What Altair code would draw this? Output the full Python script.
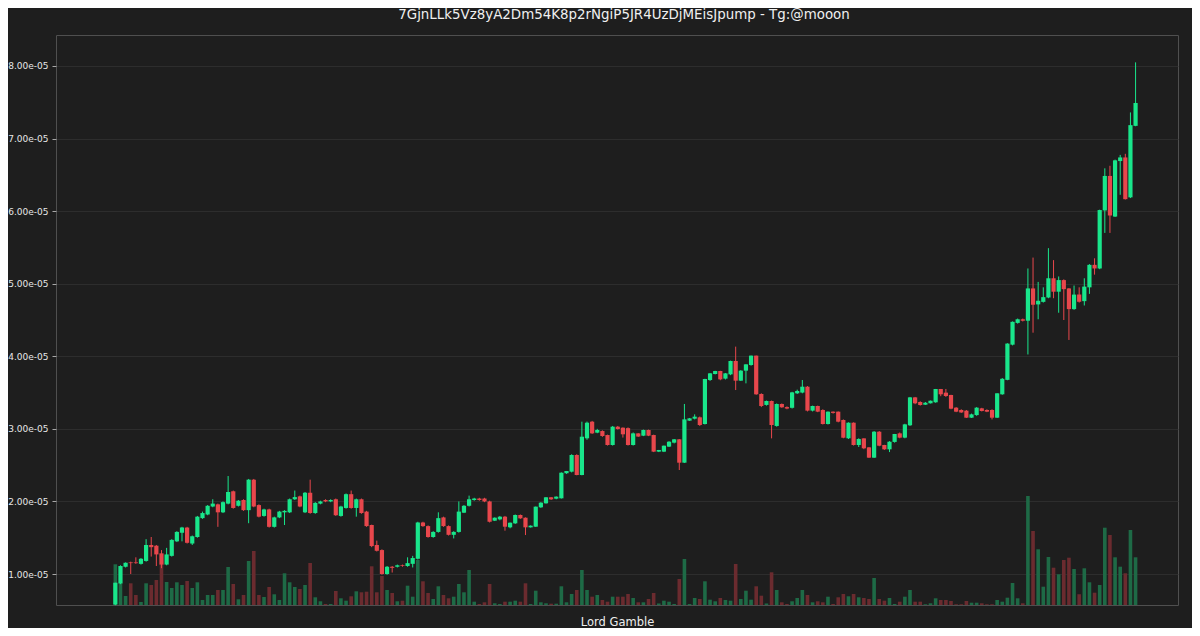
import altair as alt
import pandas as pd

TITLE = "7GjnLLk5Vz8yA2Dm54K8p2rNgiP5JR4UzDjMEisJpump - Tg:@mooon"
X_TITLE = "Lord Gamble"

# Prices are in units of 1e-05
opens = [
    0.58, 0.87, 1.10, 1.16, 1.16, 1.14, 1.18, 1.40, 1.39, 1.285,
    1.13, 1.25, 1.45, 1.57, 1.64, 1.42, 1.51, 1.77, 1.82, 1.93,
    1.96, 1.85, 1.97, 2.14, 1.94, 2.02, 1.88, 2.30, 1.95, 1.80,
    1.89, 1.65, 1.78, 1.85, 1.85, 2.03, 2.07, 1.85, 2.12, 1.84,
    1.97, 2.02, 2.00, 2.03, 1.80, 1.91, 2.10, 1.91, 2.03, 1.86,
    1.675, 1.40, 1.33, 1.00, 1.10, 1.10, 1.12, 1.11, 1.14, 1.21,
    1.71, 1.66, 1.51, 1.58, 1.78, 1.66, 1.54, 1.58, 1.845, 1.94,
    2.02, 2.04, 2.04, 2.00, 1.735, 1.753, 1.79, 1.643, 1.698, 1.813,
    1.776, 1.643, 1.652, 1.919, 1.974, 2.057, 2.038, 2.043, 2.387, 2.41,
    2.64, 2.364, 2.87, 3.099, 2.948, 2.97, 2.915, 2.778, 3.03, 3.016,
    3.01, 2.778, 2.938, 2.906, 2.984, 2.915, 2.686, 2.686, 2.755, 2.81,
    2.856, 2.534, 3.113, 3.14, 3.159, 3.067, 3.673, 3.756, 3.797, 3.692,
    3.751, 3.935, 3.664, 3.802, 3.88, 4.009, 3.48, 3.33, 3.384, 3.04,
    3.343, 3.30, 3.29, 3.49, 3.50, 3.581, 3.251, 3.315, 3.26, 3.067,
    3.237, 3.237, 3.122, 2.87, 3.085, 2.778, 2.869, 2.745, 2.603, 2.961,
    2.778, 2.718, 2.82, 2.938, 2.879, 3.049, 3.434, 3.37, 3.333, 3.352,
    3.366, 3.549, 3.499, 3.467, 3.292, 3.26, 3.251, 3.154, 3.19, 3.283,
    3.26, 3.26, 3.154, 3.476, 3.675, 4.16, 4.46, 4.51, 4.49, 4.935,
    4.715, 4.75, 4.81, 5.075, 4.89, 5.05, 4.935, 4.65, 4.85, 4.76,
    4.95, 5.26, 5.21, 6.01, 6.485, 5.925, 6.69, 6.74, 6.19, 7.175,
]
highs = [
    0.88, 1.12, 1.16, 1.17, 1.23, 1.22, 1.48, 1.51, 1.40, 1.33,
    1.36, 1.48, 1.59, 1.65, 1.65, 1.53, 1.80, 1.86, 1.95, 2.03,
    1.97, 2.00, 2.35, 2.15, 2.02, 2.03, 2.31, 2.31, 1.96, 1.90,
    1.90, 1.79, 1.87, 1.88, 2.04, 2.15, 2.08, 2.13, 2.30, 1.99,
    2.01, 2.03, 2.03, 2.04, 1.94, 2.11, 2.15, 2.04, 2.04, 1.87,
    1.68, 1.46, 1.34, 1.11, 1.11, 1.13, 1.13, 1.23, 1.25, 1.72,
    1.72, 1.67, 1.59, 1.85, 1.79, 1.67, 1.59, 2.00, 1.95, 2.08,
    2.05, 2.05, 2.05, 2.01, 1.78, 1.80, 1.80, 1.71, 1.82, 1.82,
    1.78, 1.67, 1.93, 1.99, 2.06, 2.06, 2.07, 2.40, 2.42, 2.65,
    2.65, 3.099, 3.10, 3.11, 3.00, 2.98, 2.92, 3.04, 3.04, 3.02,
    3.02, 2.95, 2.94, 2.99, 2.99, 2.92, 2.71, 2.77, 2.83, 2.86,
    2.86, 3.343, 3.15, 3.20, 3.17, 3.69, 3.77, 3.80, 3.80, 3.77,
    3.94, 4.133, 3.81, 3.89, 4.01, 4.01, 3.49, 3.39, 3.39, 3.35,
    3.35, 3.31, 3.51, 3.54, 3.673, 3.59, 3.32, 3.32, 3.27, 3.24,
    3.24, 3.24, 3.13, 3.09, 3.09, 2.87, 2.87, 2.75, 2.97, 2.97,
    2.78, 2.83, 2.93, 2.95, 3.07, 3.44, 3.44, 3.38, 3.37, 3.39,
    3.55, 3.55, 3.55, 3.47, 3.30, 3.27, 3.26, 3.21, 3.30, 3.29,
    3.27, 3.27, 3.49, 3.70, 4.18, 4.48, 4.52, 4.52, 5.21, 5.36,
    5.025, 4.95, 5.49, 5.325, 5.10, 5.06, 4.94, 4.975, 4.95, 5.075,
    5.27, 5.35, 6.02, 6.59, 6.625, 6.71, 6.775, 6.79, 7.36, 8.05,
]
lows = [
    0.57, 0.86, 1.09, 1.00, 1.14, 1.13, 1.17, 1.24, 1.11, 1.08,
    1.12, 1.24, 1.44, 1.45, 1.42, 1.40, 1.50, 1.76, 1.81, 1.92,
    1.65, 1.84, 1.96, 1.90, 1.93, 1.87, 1.70, 1.92, 1.78, 1.79,
    1.64, 1.64, 1.77, 1.675, 1.84, 2.02, 1.92, 1.84, 1.83, 1.83,
    1.96, 1.99, 1.99, 1.80, 1.79, 1.90, 1.90, 1.79, 1.83, 1.65,
    1.37, 1.31, 0.99, 0.99, 1.02, 1.09, 1.10, 1.10, 1.09, 1.20,
    1.65, 1.50, 1.50, 1.57, 1.65, 1.53, 1.49, 1.57, 1.84, 1.93,
    2.01, 2.01, 1.99, 1.71, 1.73, 1.74, 1.597, 1.63, 1.69, 1.76,
    1.537, 1.64, 1.65, 1.91, 1.97, 2.02, 2.03, 2.04, 2.38, 2.40,
    2.36, 2.36, 2.85, 2.93, 2.94, 2.89, 2.77, 2.77, 2.99, 2.88,
    2.77, 2.77, 2.89, 2.90, 2.90, 2.68, 2.68, 2.68, 2.75, 2.80,
    2.433, 2.53, 3.11, 3.13, 3.04, 3.06, 3.66, 3.75, 3.67, 3.68,
    3.74, 3.535, 3.66, 3.627, 3.87, 3.47, 3.30, 3.32, 2.869, 3.03,
    3.29, 3.27, 3.28, 3.48, 3.49, 3.24, 3.24, 3.23, 3.06, 3.06,
    3.21, 3.09, 2.87, 2.86, 2.77, 2.75, 2.72, 2.60, 2.60, 2.76,
    2.71, 2.68, 2.81, 2.87, 2.87, 3.04, 3.34, 3.32, 3.33, 3.35,
    3.36, 3.45, 3.44, 3.27, 3.23, 3.22, 3.15, 3.15, 3.18, 3.24,
    3.23, 3.13, 3.15, 3.47, 3.67, 4.15, 4.45, 4.48, 4.025, 4.325,
    4.51, 4.74, 4.80, 4.80, 4.60, 4.50, 4.225, 4.64, 4.74, 4.70,
    4.86, 5.125, 5.20, 5.70, 5.70, 5.92, 6.225, 6.16, 6.18, 7.17,
]
closes = [
    0.88, 1.11, 1.155, 1.15, 1.15, 1.21, 1.40, 1.37, 1.27, 1.13,
    1.27, 1.47, 1.58, 1.64, 1.43, 1.52, 1.79, 1.84, 1.94, 1.97,
    1.85, 1.99, 2.13, 1.91, 2.01, 1.88, 2.30, 1.93, 1.79, 1.89,
    1.65, 1.78, 1.86, 1.87, 2.03, 2.06, 1.93, 2.12, 1.84, 1.98,
    2.00, 2.00, 2.02, 1.81, 1.93, 2.10, 1.91, 2.03, 1.84, 1.66,
    1.385, 1.32, 1.00, 1.10, 1.085, 1.12, 1.11, 1.15, 1.22, 1.71,
    1.66, 1.51, 1.58, 1.77, 1.66, 1.54, 1.58, 1.86, 1.94, 2.03,
    2.04, 2.02, 2.00, 1.72, 1.776, 1.79, 1.652, 1.707, 1.813, 1.767,
    1.643, 1.666, 1.928, 1.983, 2.057, 2.029, 2.066, 2.396, 2.419, 2.64,
    2.364, 2.892, 3.085, 2.938, 2.984, 2.902, 2.778, 3.03, 2.998, 2.925,
    2.778, 2.938, 2.894, 2.984, 2.906, 2.686, 2.709, 2.768, 2.823, 2.856,
    2.534, 3.131, 3.145, 3.168, 3.053, 3.687, 3.765, 3.797, 3.682, 3.765,
    3.935, 3.664, 3.802, 3.889, 4.009, 3.476, 3.315, 3.384, 3.053, 3.343,
    3.297, 3.28, 3.503, 3.522, 3.581, 3.251, 3.315, 3.237, 3.067, 3.237,
    3.22, 3.099, 2.878, 3.085, 2.778, 2.86, 2.732, 2.603, 2.961, 2.768,
    2.718, 2.823, 2.929, 2.879, 3.062, 3.434, 3.352, 3.329, 3.36, 3.388,
    3.549, 3.476, 3.453, 3.278, 3.237, 3.226, 3.154, 3.20, 3.292, 3.246,
    3.237, 3.154, 3.49, 3.69, 4.175, 4.475, 4.51, 4.49, 4.935, 4.71,
    4.765, 4.815, 5.075, 4.89, 5.05, 4.925, 4.65, 4.85, 4.75, 4.96,
    5.26, 5.21, 6.015, 6.485, 5.94, 6.70, 6.74, 6.165, 7.185, 7.49,
]
volumes = [
    40.7, 22, 9, 21.7, 10, 3, 21.7, 20, 25, 41,
    23, 17, 22.7, 20, 24, 17, 22.7, 5, 10, 10,
    15, 15, 38, 21, 5.7, 10, 44, 54, 10, 8,
    18, 10.7, 5, 31.7, 22.7, 18, 16, 20, 42, 7.7,
    3.7, 1, 1, 14, 6.7, 4.3, 8.7, 13.7, 12.7, 13.3,
    38.7, 12.7, 29, 15, 12, 3.7, 4.3, 19.3, 8.3, 45,
    23.7, 12, 6, 18.7, 10, 6.7, 8.3, 21, 12.7, 35,
    3.3, 1, 2.7, 21, 1.7, 1, 3.3, 3.3, 4.3, 3.3,
    21.7, 1, 14.3, 2.7, 1.7, 1.3, 1.3, 18.7, 2.7, 11,
    15, 35, 15, 8.3, 10, 5, 3.3, 8.3, 8.3, 8.3,
    11, 7, 2.7, 2.7, 6, 12, 1.5, 4.3, 3.3, 1,
    26, 46, 1, 7, 6, 23.7, 5.3, 3.7, 7, 5,
    4.3, 41, 6, 14.3, 5.3, 18.7, 9.3, 1.5, 32.7, 15,
    2.7, 1, 3.7, 7, 15, 10, 2.7, 3.7, 2.7, 8.3,
    1, 7.7, 11, 8.7, 11, 7.7, 7, 6, 27, 6,
    4.3, 7, 1, 3.3, 8.3, 15, 3.3, 3.3, 0.7, 1.7,
    6.7, 5, 5, 4, 0.7, 0.7, 4, 2.3, 2.3, 1.7,
    0.7, 0.7, 5, 3.3, 7.3, 22, 6.7, 1.7, 109, 74,
    55.7, 18.3, 48, 37.3, 30.7, 45, 47.3, 36, 10.7, 36.7,
    22.7, 12.3, 20, 77.3, 70, 47.7, 38.3, 31.7, 75, 47.7,
]
y_ticks = [1, 2, 3, 4, 5, 6, 7, 8]

df = pd.DataFrame({
    "idx": list(range(len(opens))),
    "open": opens,
    "high": highs,
    "low": lows,
    "close": closes,
    "volume": volumes,
})

BG = "#1e1e1e"
UP = "#19e68b"
DOWN = "#e8474c"
UP_VOL = "#1e6a46"
DOWN_VOL = "#6b2b2f"
FONT = "DejaVu Sans"

up_cond = "datum.close >= datum.open"

x_enc = alt.X(
    "idx:Q",
    scale=alt.Scale(domain=[-10.6, 206.3], nice=False, zero=False),
    axis=alt.Axis(
        title=X_TITLE, labels=False, ticks=False, domain=False, grid=False,
        titleColor="#eeeeee", titleFontSize=11.5, titleFont=FONT,
        titleFontWeight="normal", titlePadding=11,
    ),
)

y_scale = alt.Scale(domain=[0.573, 8.427], nice=False, zero=False)
y_axis = alt.Axis(
    title=None, values=y_ticks,
    labelExpr="format(datum.value, '.2f') + 'e-05'",
    labelColor="#e6e6e6", labelFontSize=9, labelFont=FONT, labelPadding=4,
    tickColor="#cccccc", tickSize=4, tickWidth=0.8,
    domain=False, grid=True, gridColor="#313131", gridWidth=0.8,
)

base = alt.Chart(df)

vol = base.mark_bar(size=3.6).encode(
    x=x_enc,
    y=alt.Y("volume:Q", scale=alt.Scale(domain=[0, 570], nice=False), axis=None),
    color=alt.condition(up_cond, alt.value(UP_VOL), alt.value(DOWN_VOL)),
)

wick = base.mark_rule(strokeWidth=1).encode(
    x=x_enc,
    y=alt.Y("low:Q", scale=y_scale, axis=y_axis),
    y2="high:Q",
    color=alt.condition(up_cond, alt.value(UP), alt.value(DOWN)),
)

body = base.mark_bar(size=4.2).encode(
    x=x_enc,
    y=alt.Y("open:Q", scale=y_scale, axis=y_axis),
    y2="close:Q",
    color=alt.condition(up_cond, alt.value(UP), alt.value(DOWN)),
)

price = alt.layer(wick, body)

chart = (
    alt.layer(vol, price)
    .resolve_scale(y="independent")
    .properties(
        width=1122,
        height=570,
        padding={"left": 48, "top": 27, "right": 14, "bottom": 23},
        autosize=alt.AutoSizeParams(type="none"),
        background=BG,
        title=alt.TitleParams(
            TITLE, fontSize=13.4, font=FONT, color="#f0f0f0",
            fontWeight="normal", anchor="middle", offset=3,
            baseline="alphabetic", dx=7,
        ),
    )
    .configure_view(stroke="#4f4f4f", strokeWidth=1, fill=BG)
)

chart.save("out.html", embed_options={"renderer": "svg", "actions": False})
